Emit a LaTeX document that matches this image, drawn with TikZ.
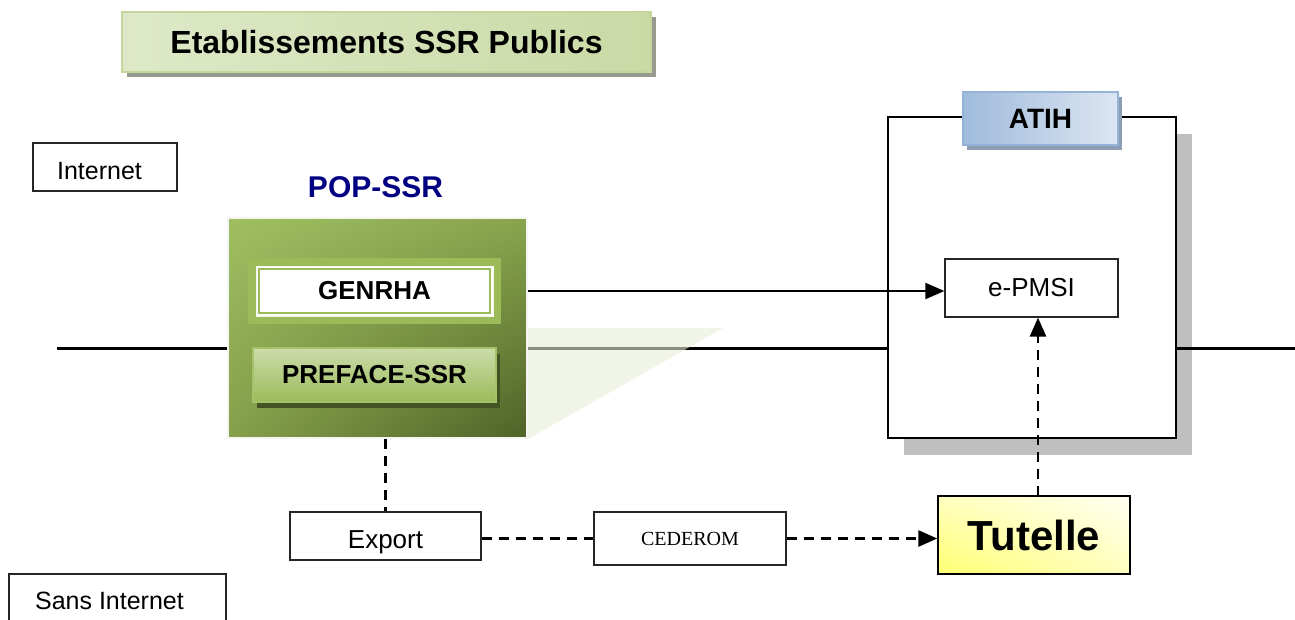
\documentclass[tikz,border=0pt]{standalone}
\usepackage{fontspec}
\setmainfont{Liberation Sans}
\newfontfamily\cedfont{Liberation Serif}
\usetikzlibrary{arrows.meta,shadows,shadings}
\definecolor{popblue}{RGB}{0,0,128}
\definecolor{olivedark}{RGB}{79,98,40}
\definecolor{olivemid}{RGB}{155,187,89}
\definecolor{olivelight}{RGB}{195,214,155}
\definecolor{blueA}{RGB}{149,179,215}
\definecolor{blueB}{RGB}{220,230,242}
\begin{document}
\begin{tikzpicture}[x=1pt,y=-1pt,
  plainbox/.style={draw=black!85, line width=1.2pt, fill=white, inner sep=0pt, font=\fontsize{25}{30}\selectfont},
  boldtxt/.style={font=\bfseries\fontsize{26}{30}\selectfont},
  dashline/.style={line width=2.7pt, dash pattern=on 10pt off 7pt},
  tip/.style={-{Triangle[length=19pt,width=16pt]}}]
\useasboundingbox (0,0) rectangle (1295,619);
% main horizontal line
\coordinate (lineL) at (57,348);
\coordinate (lineR) at (1295,348);
\draw[line width=3pt] (lineL) -- (lineR);
% title
\node[minimum width=529pt, minimum height=60pt, inner sep=0pt,
  draw=olivelight, line width=1.5pt,
  left color=olivelight!55!white, middle color=olivelight!20!white, right color=olivelight!90!white,
  drop shadow={shadow xshift=5pt,shadow yshift=-5pt,fill=olivedark!25!gray!75,opacity=1},
  font=\bfseries\fontsize{32}{38}\selectfont] (title) at (386.5,42) {Etablissements SSR Publics};
% internet labels
\node[plainbox, font=\fontsize{25}{30}\selectfont, minimum width=144pt, minimum height=48pt, text height=25pt, text depth=0pt] (internet) at (105,167) {\hspace*{-11pt}Internet};
\node[plainbox, minimum width=217pt, minimum height=54pt] (sansinternet) at (117.5,601) {\hspace*{-16pt}Sans Internet};
% POP-SSR
\node[font=\bfseries\fontsize{30}{36}\selectfont, text=popblue] (poplabel) at (375.5,187) {POP-SSR};
\node[minimum width=299pt, minimum height=220pt, inner sep=0pt,
  upper left=olivemid!95!white, upper right=olivemid!75!olivedark,
  lower left=olivemid!70!olivedark, lower right=olivedark,
  draw=white!92!gray, line width=2pt] (pop) at (377.5,328) {};
\fill[olivelight!40!white, fill opacity=0.6] (pop.east) -- ++(195,0) -- (pop.south east) -- cycle;
\node[minimum width=253pt, minimum height=66pt, inner sep=0pt, fill=olivemid] (genband) at (374.5,291) {};
\node[boldtxt, minimum width=237pt, minimum height=50pt, inner sep=0pt, fill=white, draw=white!90!olivemid, line width=1pt] (genrha) at (374.5,291) {GENRHA};
\draw[olivemid, line width=1.5pt] ([shift={(3.5,3.5)}]genrha.north west) rectangle ([shift={(-3.5,-3.5)}]genrha.south east);
\node[boldtxt, minimum width=243pt, minimum height=54pt, inner sep=0pt,
  top color=olivelight!85!white, bottom color=olivemid, draw=olivemid!90!white, line width=1.5pt,
  drop shadow={shadow xshift=4pt,shadow yshift=-6pt,fill=olivedark!85!black,opacity=1}] (preface) at (374.5,375) {PREFACE-SSR};
% ATIH
\node[minimum width=288pt, minimum height=321pt, inner sep=0pt, draw=black, line width=1.6pt, fill=white,
  drop shadow={shadow xshift=16pt,shadow yshift=-17pt,fill=black,opacity=0.25}] (atih) at (1032,277.5) {};
\node[minimum width=155pt, minimum height=53pt, inner sep=0pt,
  left color=blueA!90!white, right color=blueB, draw=blueA, line width=1.2pt,
  drop shadow={shadow xshift=4pt,shadow yshift=-5pt,fill=blueA!60!gray,opacity=1},
  font=\bfseries\fontsize{28}{34}\selectfont] (atihlabel) at (1040.5,118.5) {ATIH};
\node[plainbox, font=\fontsize{26}{30}\selectfont, minimum width=173pt, minimum height=58pt] (epmsi) at (1031.5,288) {e-PMSI};
% bottom row
\node[plainbox, font=\fontsize{26}{30}\selectfont, minimum width=191pt, minimum height=48pt, text height=24pt, text depth=0pt] (export) at (385.5,536) {Export};
\node[plainbox, font=\cedfont\fontsize{20}{24}\selectfont, minimum width=192pt, minimum height=53pt] (cederom) at (690,538.5) {CEDEROM};
\node[minimum width=192pt, minimum height=78pt, inner sep=0pt, draw=black, line width=1.4pt,
  lower left=yellow!55!white, upper right=yellow!5!white, upper left=yellow!25!white, lower right=yellow!25!white,
  font=\bfseries\fontsize{42}{48}\selectfont] (tutelle) at (1034,535) {Tutelle};
% connectors
\draw[line width=2pt, tip] (pop.east |- genrha.east) -- (genrha.east -| epmsi.west);
\draw[dashline] (export.north |- pop.south) -- (export.north);
\draw[dashline] (export.east |- cederom.west) -- (cederom.west);
\draw[dashline, tip] (cederom.east) -- (tutelle.west |- cederom.east);
\coordinate (tutup) at (1038,496);
\draw[dashline, tip] (tutup) -- (tutup |- epmsi.south);
\end{tikzpicture}
\end{document}
